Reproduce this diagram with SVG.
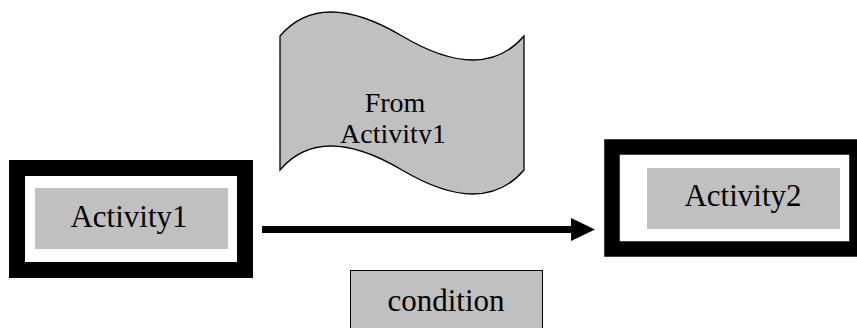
<svg xmlns="http://www.w3.org/2000/svg" width="857" height="328" viewBox="0 0 857 328">
<style>
.lbl{font-family:"Liberation Serif","Times New Roman",serif;fill:#000;text-anchor:middle}
.big{font-size:31px}
.mid{font-size:28px}
.frame{fill:#fff;stroke:#000;stroke-width:16}
.grey{fill:#c0c0c0}
</style>
<defs>
<clipPath id="clipText"><rect x="280" y="60" width="244" height="84"/></clipPath>
</defs>
<rect width="857" height="328" fill="#fff"/>
<g id="activity1">
<rect class="frame" x="17" y="168" width="228" height="102"/>
<rect class="grey" x="35" y="188" width="193" height="61"/>
<text class="lbl big" x="129" y="227">Activity1</text>
</g>
<g id="activity2">
<rect class="frame" x="612" y="147" width="245" height="102" style="stroke-width:15.5"/>
<rect class="grey" x="647" y="168" width="193" height="61"/>
<text class="lbl big" x="743" y="206">Activity2</text>
</g>
<g id="tape">
<path d="M280,36 Q321,-12 402,36 Q483,84 524,36 L524,170 Q483,218 402,170 Q321,122 280,170 Z" fill="#c0c0c0" stroke="#000" stroke-width="1.3"/>
<g clip-path="url(#clipText)">
<text class="lbl mid" x="395" y="112">From</text>
<text class="lbl mid" x="393" y="143">Activity1</text>
</g>
</g>
<g id="condition">
<rect x="350.5" y="270.5" width="192" height="70" fill="#c0c0c0" stroke="#000" stroke-width="1"/>
<text class="lbl big" x="446" y="311">condition</text>
</g>
<g id="connectors">
<line x1="262" y1="229.5" x2="572" y2="229.5" stroke="#000" stroke-width="7"/>
<polygon points="571,218 595,229.5 571,241" fill="#000"/>
</g>
</svg>
